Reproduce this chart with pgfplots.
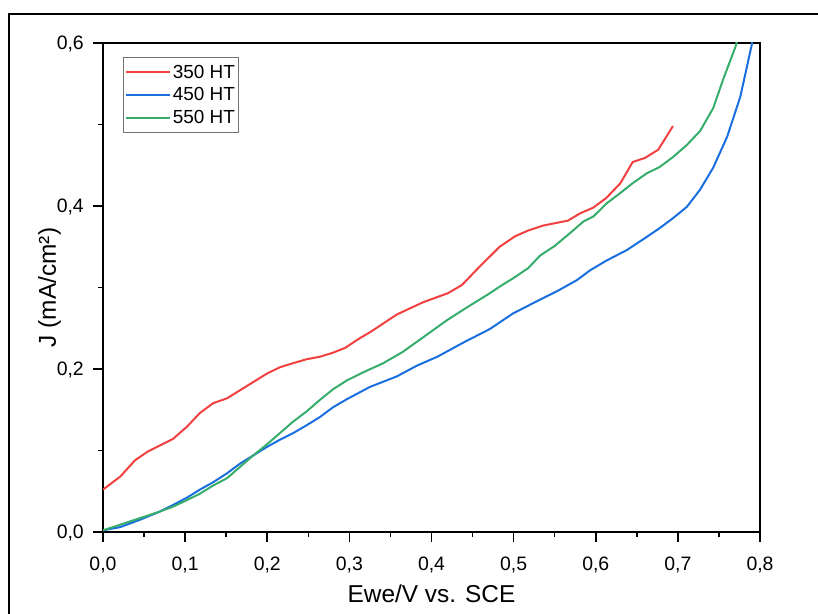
\documentclass[border=0pt]{standalone}
\usepackage{fontspec}
\setmainfont{Liberation Sans}
\usepackage{pgfplots}
\pgfplotsset{compat=1.18}
\definecolor{cred}{HTML}{F14040}
\definecolor{cblue}{HTML}{1A6FDF}
\definecolor{cgreen}{HTML}{37AD6B}
\begin{document}
\begin{tikzpicture}[x=1bp,y=1bp]
\useasboundingbox (0,0) rectangle (818,614);
\draw[line width=1.5bp] (9,-20) -- (9,600) -- (840,600);
\begin{axis}[
  at={(103bp,82bp)}, anchor=south west,
  scale only axis, width=657bp, height=489bp,
  xmin=0, xmax=0.8, ymin=0, ymax=0.6,
  xtick={0,0.1,0.2,0.3,0.4,0.5,0.6,0.7,0.8},
  ytick={0,0.2,0.4,0.6},
  minor xtick={0.05,0.15,0.25,0.35,0.45,0.55,0.65,0.75},
  minor ytick={0.1,0.3,0.5},
  tick align=outside,
  major tick length=10bp, minor tick length=5bp,
  xtick pos=bottom, ytick pos=left,
  axis line style={line width=2.2bp},
  every tick/.style={black, line width=1.6bp},
  every minor tick/.style={black, line width=1.6bp},
  /pgf/number format/assume math mode=true,
  /pgf/number format/use comma,
  /pgf/number format/fixed,
  /pgf/number format/fixed zerofill,
  /pgf/number format/precision=1,
  tick label style={font=\fontsize{19.5}{22}\selectfont, text=black, inner sep=0pt},
  xticklabel style={anchor=base},
  xticklabel shift=29bp,
  yticklabel style={anchor=base east, yshift=-7bp},
  yticklabel shift=9bp,
  xlabel={Ewe/V vs. SCE},
  ylabel={J (mA/cm²)},
  every axis x label/.style={at={([yshift=-71bp]axis description cs:0.5,0)}, anchor=base, font=\fontsize{24.5}{28}\selectfont},
  every axis y label/.style={at={([xshift=-47bp]axis description cs:0,0.5)}, anchor=base, rotate=90, font=\fontsize{24.5}{28}\selectfont},
  legend style={at={(axis description cs:0,1)}, anchor=north west, xshift=20bp, yshift=-14bp,
    draw=black!55, line width=0.8bp, font=\fontsize{19}{22}\selectfont,
    inner xsep=1.5bp, inner ysep=5.5bp, row sep=4bp},
  legend cell align=left,
  legend image code/.code={\draw[#1, line width=2bp] (0bp,0bp) -- (44bp,0bp);},
  clip=true,
]
\addplot[cred, line width=2bp] coordinates {
(0,0.052) (0.021,0.068) (0.039,0.088) (0.055,0.099) (0.071,0.107) (0.085,0.114)
(0.102,0.129) (0.118,0.146) (0.134,0.158) (0.151,0.164) (0.167,0.174) (0.183,0.184)
(0.199,0.194) (0.215,0.202) (0.231,0.207) (0.248,0.212) (0.264,0.215) (0.280,0.220)
(0.295,0.226) (0.313,0.238) (0.325,0.245) (0.358,0.267) (0.390,0.282) (0.420,0.293)
(0.437,0.303) (0.459,0.326) (0.483,0.350) (0.502,0.363) (0.518,0.370) (0.536,0.376)
(0.566,0.382) (0.581,0.391) (0.597,0.398) (0.613,0.410) (0.630,0.428) (0.645,0.454)
(0.660,0.459) (0.676,0.469) (0.694,0.498)
};
\addlegendentry{350 HT}
\addplot[cblue, line width=2bp] coordinates {
(0,0.002) (0.021,0.006) (0.045,0.015) (0.069,0.025) (0.085,0.033) (0.102,0.042)
(0.118,0.052) (0.134,0.061) (0.151,0.072) (0.167,0.084) (0.183,0.094) (0.199,0.104)
(0.215,0.113) (0.231,0.121) (0.248,0.131) (0.264,0.141) (0.280,0.153) (0.297,0.163)
(0.325,0.178) (0.358,0.191) (0.382,0.204) (0.407,0.215) (0.438,0.232) (0.471,0.249)
(0.499,0.268) (0.528,0.283) (0.552,0.295) (0.577,0.309) (0.593,0.321) (0.613,0.333)
(0.638,0.346) (0.662,0.362) (0.678,0.373) (0.694,0.385) (0.711,0.399) (0.727,0.420)
(0.743,0.447) (0.760,0.485) (0.776,0.534) (0.790,0.598) (0.791,0.610)
};
\addlegendentry{450 HT}
\addplot[cgreen, line width=2bp] coordinates {
(0,0.002) (0.021,0.009) (0.045,0.017) (0.069,0.025) (0.085,0.031) (0.102,0.039)
(0.118,0.047) (0.134,0.057) (0.151,0.066) (0.167,0.080) (0.183,0.094) (0.199,0.107)
(0.215,0.121) (0.231,0.135) (0.248,0.148) (0.264,0.162) (0.280,0.175) (0.297,0.186)
(0.317,0.196) (0.341,0.207) (0.365,0.221) (0.390,0.239) (0.419,0.260) (0.447,0.278)
(0.468,0.291) (0.486,0.303) (0.502,0.313) (0.518,0.324) (0.532,0.339) (0.550,0.351)
(0.569,0.367) (0.585,0.381) (0.597,0.387) (0.613,0.403) (0.630,0.416) (0.645,0.428)
(0.662,0.440) (0.678,0.448) (0.694,0.460) (0.711,0.475) (0.727,0.492) (0.743,0.520)
(0.755,0.555) (0.770,0.595) (0.774,0.610)
};
\addlegendentry{550 HT}
\end{axis}
\end{tikzpicture}
\end{document}
